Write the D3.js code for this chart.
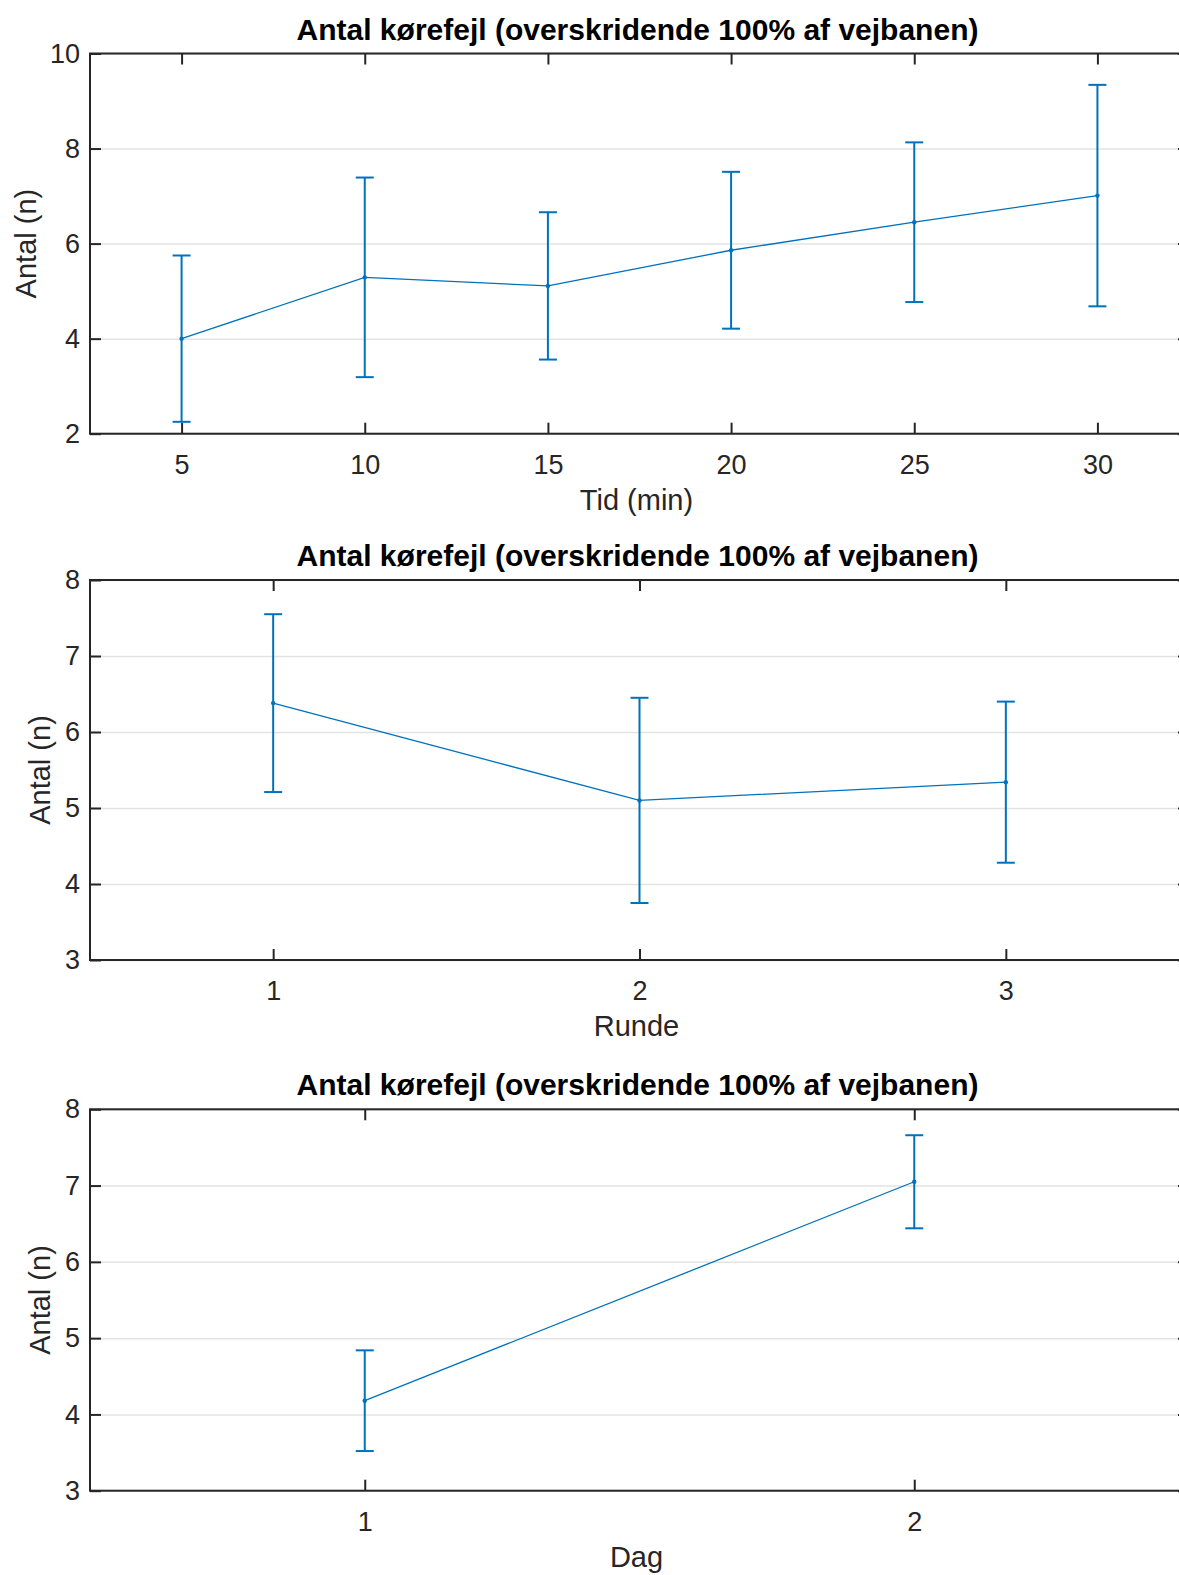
<!DOCTYPE html>
<html>
<head>
<meta charset="utf-8">
<script src="https://cdn.jsdelivr.net/npm/d3@7"></script>
<style>
  html, body { margin: 0; padding: 0; background: #fff; overflow: hidden; }
  svg { display: block; font-family: "Liberation Sans", Arial, sans-serif; }
</style>
</head>
<body>
<svg id="chart" width="1179" height="1575"></svg>
<script>
// data (mean and symmetric error)
const title = 'Antal kørefejl (overskridende 100% af vejbanen)';
const yLabel = 'Antal (n)';

const tidX = [5, 10, 15, 20, 25, 30];
const tidMean = [4.0, 5.29, 5.11, 5.86, 6.45, 7.01];
const tidErr = [1.75, 2.1, 1.55, 1.65, 1.68, 2.33];
const tidYTicks = [2, 4, 6, 8, 10];

const rundeX = [1, 2, 3];
const rundeMean = [6.38, 5.10, 5.34];
const rundeErr = [1.17, 1.35, 1.06];
const rundeYTicks = [3, 4, 5, 6, 7, 8];

const dagX = [1, 2];
const dagMean = [4.18, 7.05];
const dagErr = [0.66, 0.61];
const dagYTicks = [3, 4, 5, 6, 7, 8];

const blue = '#0072BD';
const ink = '#262626';
const svg = d3.select('#chart');

const panels = [
    { x: tidX, mean: tidMean, err: tidErr, xDomain: [2.5, 32.5], yDomain: [2, 10], yTicks: tidYTicks,
      xLabel: 'Tid (min)', top: 53.5, bottom: 433.7, yLabelX: 26 },
    { x: rundeX, mean: rundeMean, err: rundeErr, xDomain: [0.5, 3.5], yDomain: [3, 8], yTicks: rundeYTicks,
      xLabel: 'Runde', top: 580, bottom: 960, yLabelX: 40 },
    { x: dagX, mean: dagMean, err: dagErr, xDomain: [0.5, 2.5], yDomain: [3, 8], yTicks: dagYTicks,
      xLabel: 'Dag', top: 1109.3, bottom: 1490.7, yLabelX: 40 }
];

const left = 90, right = 1189;

panels.forEach(p => {
    let w = right - left, h = p.bottom - p.top;
    let x = d3.scaleLinear().domain(p.xDomain).range([0, w]);
    let y = d3.scaleLinear().domain(p.yDomain).range([h, 0]);
    let pts = p.x.map((v, i) => ({ x: v, m: p.mean[i], e: p.err[i] }));

    let g = svg.append('g').attr('transform', `translate(${left},${p.top})`);

    // horizontal grid
    g.append('g')
        .call(d3.axisLeft(y).tickValues(p.yTicks).tickSize(-w).tickFormat(''))
        .call(a => a.select('.domain').remove())
        .selectAll('line').attr('stroke', '#e3e3e3').attr('stroke-width', 1.5);

    // box
    g.append('rect').attr('width', w).attr('height', h)
        .attr('fill', 'none').attr('stroke', ink).attr('stroke-width', 2);

    let tickLen = 11;
    g.append('g')
        .call(d3.axisLeft(y).tickValues(p.yTicks).tickSize(-tickLen).tickPadding(10).tickFormat(d3.format('d')));
    g.append('g').attr('transform', `translate(${w},0)`)
        .call(d3.axisRight(y).tickValues(p.yTicks).tickSize(-tickLen).tickFormat(''));
    g.append('g').attr('transform', `translate(0,${h})`)
        .call(d3.axisBottom(x).tickValues(p.x).tickSize(-tickLen).tickPadding(21).tickFormat(d3.format('d')));
    g.append('g')
        .call(d3.axisTop(x).tickValues(p.x).tickSize(-tickLen).tickFormat(''));

    g.selectAll('.domain').remove();
    g.selectAll('.tick line').filter(function () { return this.getAttribute('stroke') === 'currentColor'; })
        .attr('stroke', ink).attr('stroke-width', 2);
    g.selectAll('.tick text').attr('fill', ink).style('font-size', '27px');

    // connecting line
    g.append('path').datum(pts)
        .attr('fill', 'none').attr('stroke', blue).attr('stroke-width', 1.3)
        .attr('d', d3.line().x(d => x(d.x)).y(d => y(d.m)));

    // error bars
    let eb = g.selectAll('.eb').data(pts).enter().append('g').attr('class', 'eb')
        .attr('stroke', blue).attr('stroke-width', 2);
    eb.append('line')
        .attr('x1', d => x(d.x)).attr('x2', d => x(d.x))
        .attr('y1', d => y(d.m - d.e)).attr('y2', d => y(d.m + d.e));
    eb.append('line')
        .attr('x1', d => x(d.x) - 9).attr('x2', d => x(d.x) + 9)
        .attr('y1', d => y(d.m + d.e)).attr('y2', d => y(d.m + d.e));
    eb.append('line')
        .attr('x1', d => x(d.x) - 9).attr('x2', d => x(d.x) + 9)
        .attr('y1', d => y(d.m - d.e)).attr('y2', d => y(d.m - d.e));
    eb.append('circle')
        .attr('cx', d => x(d.x)).attr('cy', d => y(d.m)).attr('r', 2.2)
        .attr('fill', blue).attr('stroke', 'none');

    // title and labels
    g.append('text').attr('x', (1179 - left) / 2 + 3).attr('y', -14)
        .attr('text-anchor', 'middle').attr('fill', '#000')
        .style('font-size', '30px').style('font-weight', 'bold')
        .text(title);
    g.append('text').attr('x', w / 2 - 3).attr('y', h + 76)
        .attr('text-anchor', 'middle').attr('fill', ink).style('font-size', '29px')
        .text(p.xLabel);
    g.append('text')
        .attr('transform', `translate(${p.yLabelX - left + 10},${h / 2}) rotate(-90)`)
        .attr('text-anchor', 'middle').attr('fill', ink).style('font-size', '29px')
        .text(yLabel);
});
</script>
</body>
</html>
